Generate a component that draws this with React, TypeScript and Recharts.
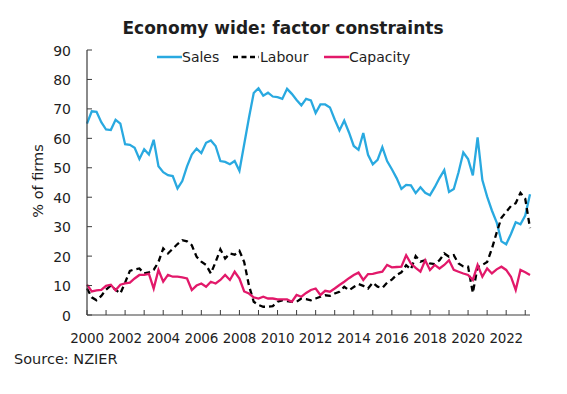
import React from 'react';
import { LineChart, Line, XAxis, YAxis, Legend } from 'recharts';

const years = [2000, 2001, 2002, 2003, 2004, 2005, 2006, 2007, 2008, 2009, 2010, 2011, 2012, 2013, 2014, 2015, 2016, 2017, 2018, 2019, 2020, 2021, 2022, 2023];
const quarterNames = ['Q1', 'Q2', 'Q3', 'Q4'];

const sales = [
  65, 69.2, 69, 65.5, 63, 62.8, 66.3, 65, 58, 57.8,
  56.8, 53, 56.3, 54.5, 59.5, 50.5, 48.5, 47.5, 47.2, 43,
  45.5, 50.5, 54.5, 56.5, 55, 58.5, 59.3, 57.4, 52.3, 52,
  51.2, 52.3, 49, 58, 67, 75.4, 77, 74.5, 75.5, 74.2,
  74, 73.4, 76.8, 75.1, 73, 71.2, 73.4, 72.9, 68.6, 71.5,
  71.5, 70.5, 66.4, 62.7, 66, 62, 57.4, 56.1, 61.8, 54.4,
  51.2, 52.7, 57, 52.3, 49.5, 46.5, 42.8, 44.2, 44, 41.4,
  43.4, 41.5, 40.7, 43.4, 46.5, 49.2, 41.8, 42.8, 48.5, 55.2,
  53, 47.4, 60.3, 45.8, 40.2, 35.5, 31.5, 25, 24, 27.5,
  31.5, 30.8, 33.8, 41,
];

const labour = [
  9, 6, 5, 6.5, 8.6, 10, 8.6, 7.3, 11, 15,
  15.5, 15.8, 14.1, 14.5, 15.3, 18, 22.6, 20.9, 22.5, 24.1,
  25.4, 25, 23.7, 19.8, 18.1, 17, 14.1, 18, 22.3, 19.2,
  20.9, 20.5, 21.8, 18, 10, 4.5, 3.4, 2.8, 2.8, 3,
  4.5, 5, 4.7, 4.5, 4.5, 5.6, 5.4, 5, 5.6, 6.2,
  6.7, 6.5, 7.3, 7.9, 9.6, 8.4, 9.5, 10.5, 9.9, 9,
  11, 9.6, 9.2, 11, 12, 13.6, 14.5, 16.9, 15.5, 20,
  18.1, 18.6, 17.5, 17.3, 18.6, 20.9, 19.8, 20.3, 17.5, 16.5,
  16.4, 7.5, 16.3, 17, 18, 22.5, 28, 33, 35, 37,
  38, 41.5, 39.5, 29.5,
];

const capacity = [
  10.3, 8, 8.4, 8.5, 9.9, 10.3, 8.4, 10.3, 10.7, 11,
  12.4, 13.6, 13.6, 14, 9, 15.3, 11.3, 13.6, 13, 13,
  12.8, 12.4, 8.5, 10, 10.7, 9.6, 11.3, 10.7, 11.9, 13.6,
  11.9, 14.7, 12.4, 8, 7.3, 6, 5.6, 6.2, 5.6, 5.6,
  5.3, 5.3, 5.3, 4.5, 6.8, 6.2, 7.5, 8.5, 9, 6.8,
  8.2, 7.9, 9, 10.2, 11.3, 12.5, 13.6, 14.4, 11.9, 13.9,
  14, 14.4, 14.7, 17, 16.2, 16.3, 16.4, 20.3, 17.5, 16,
  14.7, 18.6, 15.3, 17, 15.8, 17, 18.6, 15.3, 14.7, 14.1,
  13.6, 11.9, 17, 13, 15.8, 14.1, 15.5, 16.4, 15.3, 13,
  8.5, 15.3, 14.5, 13.6,
];

const yTicks = [0, 10, 20, 30, 40, 50, 60, 70, 80, 90];
const xTickLabels = ['2000', '2002', '2004', '2006', '2008', '2010', '2012', '2014', '2016', '2018', '2020', '2022'];

const categories: string[] = [];
years.forEach((y) => quarterNames.forEach((q) => categories.push(`${y}${q}`)));
const data = sales.map((s, i) => ({
  q: categories[i],
  sales: s,
  labour: labour[i],
  capacity: capacity[i],
}));
const yearTicks = years.map((y) => `${y}Q1`);

const FONT = '"DejaVu Sans", Verdana, sans-serif';
const TEXT = '#1e1e1e';
const AXIS = '#3c3c3c';
const SALES_C = '#29A9E0';
const LABOUR_C = '#000000';
const CAP_C = '#E2196A';

const XTick = (props: any) => {
  const { x, y, payload } = props;
  const year = String(payload.value).slice(0, 4);
  return (
    <g>
      <line x1={x} x2={x} y1={y} y2={y - 5} stroke={AXIS} strokeWidth={1} />
      {xTickLabels.includes(year) && (
        <text x={x} y={y + 28} textAnchor="middle" fontFamily={FONT} fontSize={13.5} letterSpacing={-0.2} fill={TEXT}>
          {year}
        </text>
      )}
    </g>
  );
};

const YTick = (props: any) => {
  const { x, y, payload } = props;
  return (
    <g>
      <line x1={x} x2={x + 5} y1={y} y2={y} stroke={AXIS} strokeWidth={1} />
      <text x={x - 16} y={y + 5.5} textAnchor="end" fontFamily={FONT} fontSize={14} fill={TEXT}>
        {payload.value}
      </text>
    </g>
  );
};

const renderLegend = () => (
  <div style={{ position: 'relative', width: 260, height: 20, fontFamily: FONT, fontSize: 14, color: TEXT, lineHeight: '20px' }}>
    <svg style={{ position: 'absolute', left: 0, top: 0 }} width={26} height={20}>
      <line x1={0} x2={25} y1={10} y2={10} stroke={SALES_C} strokeWidth={2.5} />
    </svg>
    <span style={{ position: 'absolute', left: 25, top: 0 }}>Sales</span>
    <svg style={{ position: 'absolute', left: 76, top: 0 }} width={27} height={20}>
      <line x1={0} x2={26} y1={10} y2={10} stroke={LABOUR_C} strokeWidth={2.5} strokeDasharray="5 3.5" />
    </svg>
    <span style={{ position: 'absolute', left: 103, top: 0 }}>Labour</span>
    <svg style={{ position: 'absolute', left: 167, top: 0 }} width={26} height={20}>
      <line x1={0} x2={25} y1={10} y2={10} stroke={CAP_C} strokeWidth={2.5} />
    </svg>
    <span style={{ position: 'absolute', left: 192, top: 0 }}>Capacity</span>
  </div>
);

export default function App() {
  return (
    <div style={{ position: 'absolute', left: 0, top: 0, width: 567, height: 394, background: '#ffffff' }}>
      <LineChart width={567} height={394} data={data} margin={{ top: 50, right: 37, bottom: 49, left: 27 }}>
        <XAxis
          dataKey="q"
          ticks={yearTicks}
          interval={0}
          tick={<XTick />}
          tickLine={false}
          tickSize={0}
          tickMargin={0}
          height={30}
          axisLine={{ stroke: AXIS, strokeWidth: 1.2 }}
        />
        <YAxis
          domain={[0, 90]}
          ticks={yTicks}
          interval={0}
          tick={<YTick />}
          tickLine={false}
          tickSize={0}
          tickMargin={0}
          width={60}
          axisLine={{ stroke: AXIS, strokeWidth: 1.2 }}
          label={{
            content: () => (
              <text x={43} y={181} transform="rotate(-90, 43, 181)" textAnchor="middle" fontFamily={FONT} fontSize={14.5} fill={TEXT}>
                % of firms
              </text>
            ),
          }}
        />
        <Legend
          content={renderLegend}
          layout="horizontal"
          verticalAlign="middle"
          align="center"
          wrapperStyle={{ position: 'absolute', top: 47, left: 157, width: 260, height: 20 }}
        />
        <Line type="linear" dataKey="sales" name="Sales" stroke={SALES_C} strokeWidth={2.3} dot={false} isAnimationActive={false} />
        <Line type="linear" dataKey="labour" name="Labour" stroke={LABOUR_C} strokeWidth={2.3} strokeDasharray="6 4" dot={false} isAnimationActive={false} />
        <Line type="linear" dataKey="capacity" name="Capacity" stroke={CAP_C} strokeWidth={2.3} dot={false} isAnimationActive={false} />
      </LineChart>
      <svg style={{ position: 'absolute', left: 0, top: 0, pointerEvents: 'none' }} width={567} height={394}>
        <text x={283} y={34} textAnchor="middle" fontFamily={FONT} fontWeight="bold" fontSize={17} fill={TEXT}>
          Economy wide: factor constraints
        </text>
        <text x={14} y={364} fontFamily={FONT} fontSize={14.5} fill={TEXT}>
          Source: NZIER
        </text>
      </svg>
    </div>
  );
}
